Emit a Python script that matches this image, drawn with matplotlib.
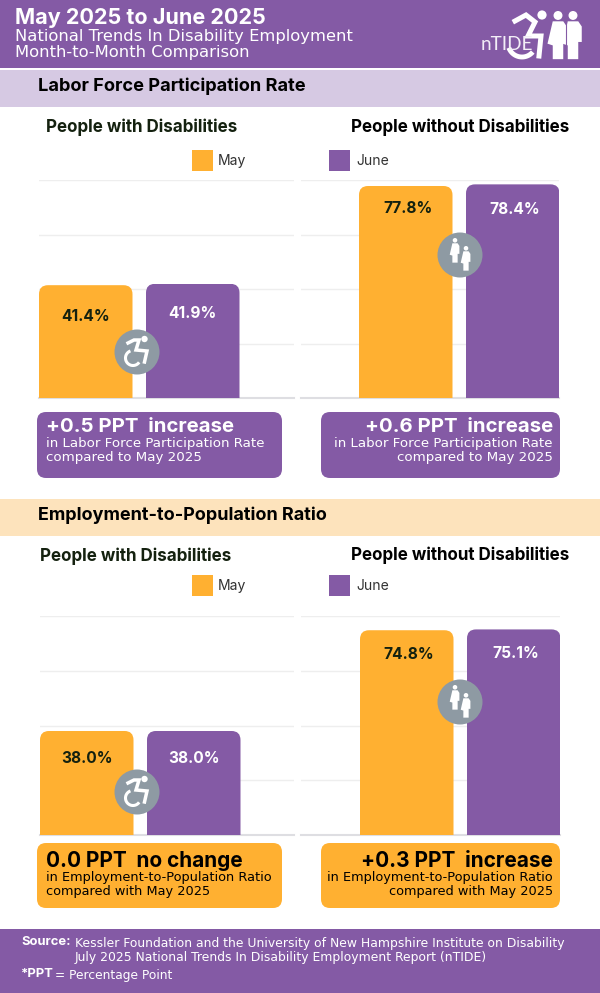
import numpy as np
import matplotlib
matplotlib.use("Agg")
from matplotlib import pyplot as plt
from matplotlib.patches import Rectangle, FancyBboxPatch, Circle, Polygon

W, H = 600, 993
PURPLE = "#845AA5"
ORANGE = "#FFB031"
LILAC = "#D6C9E3"
CREAM = "#FDE3BC"
GRAY = "#8E9AA3"
DARK = "#14210F"
WIDE = "DejaVu Sans"

plt.rcParams["font.family"] = ["Inter", "DejaVu Sans"]

months = ["May", "June"]
lfpr_with = [41.4, 41.9]
lfpr_without = [77.8, 78.4]
epop_with = [38.0, 38.0]
epop_without = [74.8, 75.1]
y_ticks = [0, 20, 40, 60, 80]

callout_heads = ["+0.5 PPT  increase", "+0.6 PPT  increase", "0.0 PPT  no change", "+0.3 PPT  increase"]
lfpr_sub = ["in Labor Force Participation Rate", "compared to May 2025"]
epop_sub = ["in Employment-to-Population Ratio", "compared with May 2025"]


def pt(px):
    return px * 0.72


fig = plt.figure(figsize=(W / 100, H / 100), dpi=100, facecolor="white")


def pixel_axes(z):
    ax = fig.add_axes([0, 0, 1, 1], zorder=z)
    ax.set_xlim(0, W)
    ax.set_ylim(H, 0)
    ax.axis("off")
    ax.patch.set_alpha(0)
    return ax


bg = pixel_axes(0)
fg = pixel_axes(5)


def txt(x, y, s, px, weight="normal", color="black", ha="left", family=None):
    t = fg.text(x, y, s, fontsize=pt(px), fontweight=weight, color=color, ha=ha, va="center")
    if family:
        t.set_family(family)


def band(y0, y1, color):
    bg.add_patch(Rectangle((0, y0), W, y1 - y0, color=color, lw=0))


def round_box(x0, y0, x1, y1, color):
    bg.add_patch(FancyBboxPatch((x0, y0), x1 - x0, y1 - y0, boxstyle="round,pad=0,rounding_size=9",
                                fc=color, ec="none"))


def bar_panel(x0, x1, base_y, top_y, x_first, values, drops, dx=0, label_px=15.5):
    # x_first = left edge of the first bar, in pixels
    step, width = 107.0, 93.5
    left = (x0 - (x_first + width / 2)) / step
    right = (x1 - (x_first + width / 2)) / step
    ax = fig.add_axes([x0 / W, 1 - base_y / H, (x1 - x0) / W, (base_y - top_y) / H], zorder=2)
    ax.set_xlim(left, right)
    ax.set_ylim(y_ticks[0], y_ticks[-1])
    ax.patch.set_alpha(0)
    for s in ax.spines.values():
        s.set_visible(False)
    ax.set_xticks([])
    ax.set_yticks(y_ticks)
    ax.tick_params(left=False, labelleft=False)
    ax.grid(axis="y", color="#EEEEEE", lw=1)
    ax.set_axisbelow(True)
    ax.axhline(0, color="#DEDEE2", lw=1.5, clip_on=False)
    pos = np.arange(len(values))
    bars = ax.bar(pos, values, width=width / step, color=[ORANGE, PURPLE], zorder=2)
    unit_x = step
    unit_y = (base_y - top_y) / y_ticks[-1]
    for b, v, drop, col in zip(bars, values, drops, [DARK, "white"]):
        # round the top corners: clip the bar to a rounded box running below the axis
        clip = FancyBboxPatch((b.get_x(), -10), b.get_width(), v + 10,
                              boxstyle="round,pad=0,rounding_size=%f" % (9 / unit_x),
                              mutation_aspect=unit_x / unit_y, transform=ax.transData)
        b.set_clip_path(clip)
        ax.annotate(f"{v:.1f}%", (b.get_x() + b.get_width() / 2, v), xytext=(dx * 0.72, -drop * 0.72),
                    textcoords="offset points", ha="center", va="center",
                    fontsize=pt(label_px), fontweight="bold", color=col, zorder=3)
    return ax


def arc(ax, cx, cy, r, a0, a1, lw, color="white"):
    t = np.radians(np.linspace(a0, a1, 40))
    ax.plot(cx + r * np.cos(t), cy - r * np.sin(t), color=color, lw=lw, solid_capstyle="butt")


def wheelchair(ax, cx, cy, color="white"):
    ax.add_patch(Circle((cx + 7.5, cy - 13), 3.2, color=color, lw=0))
    arc(ax, cx - 4, cy + 6, 7.5, 110, 325, 2.2, color)
    xs = [-9, -3, 2, -1, 10, 7.5]
    ys = [-9, -12, -12, -2, -1, 10]
    ax.plot([cx + v for v in xs], [cy + v for v in ys], color=color, lw=2.5, solid_joinstyle="miter")


def person(ax, x, y, k=1.0, kx=None, color="white"):
    # y = top of the head
    kx = kx or k
    ax.add_patch(Circle((x, y + 2.6 * k), 2.6 * k, color=color, lw=0))
    ax.add_patch(Polygon([(x - 3 * kx, y + 6 * k), (x + 3 * kx, y + 6 * k), (x + 5 * kx, y + 9 * k),
                          (x + 5 * kx, y + 18 * k), (x + 3 * kx, y + 18 * k), (x + 3 * kx, y + 28 * k),
                          (x - 3 * kx, y + 28 * k), (x - 3 * kx, y + 20 * k), (x - 6 * kx, y + 19 * k)],
                         color=color, lw=0))


def disc(cx, cy):
    fg.add_patch(Circle((cx, cy), 22.5, color=GRAY, lw=0))


# header
band(0, 68, PURPLE)
txt(15, 18, "May 2025 to June 2025", 21.6, "bold", "white")
txt(15, 37, "National Trends In Disability Employment", 16.4, "normal", "white", family=WIDE)
txt(15, 52, "Month-to-Month Comparison", 16.4, "normal", "white", family=WIDE)

# logo
txt(481, 45, "nTIDE", 19, "normal", "#F3EEF7", family="Lato")
arc(fg, 522, 43, 14, 200, 320, 3.5)
fg.add_patch(Circle((542, 15), 4.6, color="white", lw=0))
fg.plot([515, 526, 535, 528, 541, 539], [21, 15, 22, 36, 36, 56], color="white", lw=3.6, solid_joinstyle="miter")
person(fg, 558, 11, 1.72, 1.75)
person(fg, 573, 11, 1.72, 1.75)
fg.plot([565.5, 565.5], [22, 60], color=PURPLE, lw=0.8)

# section bands
band(70, 107, LILAC)
txt(38, 86, "Labor Force Participation Rate", 18.2, "bold")
band(499, 536, CREAM)
txt(38, 515, "Employment-to-Population Ratio", 18.0, "bold")

# panel titles
txt(46, 127, "People with Disabilities", 17, "bold", DARK)
txt(351, 127, "People without Disabilities", 17, "bold")
txt(40, 556, "People with Disabilities", 17, "bold", DARK)
txt(351, 555, "People without Disabilities", 17, "bold")

# legends
for ly in (161, 586):
    bg.add_patch(Rectangle((192, ly - 11), 21, 21, color=ORANGE, lw=0))
    bg.add_patch(Rectangle((329, ly - 11), 21, 21, color=PURPLE, lw=0))
    txt(218, ly, months[0], 14, "normal", "#333333")
    txt(356, ly, months[1], 14, "normal", "#333333")

# bars
bar_panel(39, 294, 398, 180, 39, lfpr_with, [31, 30])
bar_panel(301, 559, 398, 180, 359, lfpr_without, [23, 25], dx=2)
bar_panel(40, 294, 835, 616, 40, epop_with, [28, 28])
bar_panel(301, 560, 835, 616, 360, epop_without, [24, 24], dx=2)

# icons
disc(137, 352)
wheelchair(fg, 137, 352)
disc(137, 792)
wheelchair(fg, 137, 792)
for cx, cy in ((460, 255), (460, 702)):
    disc(cx, cy)
    person(fg, cx - 5, cy - 17, 0.88)
    person(fg, cx + 6, cy - 9, 0.88)

# callouts
round_box(37, 412, 282, 478, PURPLE)
round_box(321, 412, 560, 478, PURPLE)
round_box(37, 843, 282, 908, ORANGE)
round_box(321, 843, 560, 908, ORANGE)
txt(46, 427, callout_heads[0], 20.4, "bold", "white")
txt(46, 443, lfpr_sub[0], 13.45, "normal", "white", family=WIDE)
txt(46, 457, lfpr_sub[1], 13.45, "normal", "white", family=WIDE)
txt(553, 427, callout_heads[1], 20.4, "bold", "white", "right")
txt(553, 443, lfpr_sub[0], 13.45, "normal", "white", "right", family=WIDE)
txt(553, 457, lfpr_sub[1], 13.45, "normal", "white", "right", family=WIDE)
txt(46, 861, callout_heads[2], 20.8, "bold", "black")
txt(46, 878, epop_sub[0], 12.95, "normal", "black", family=WIDE)
txt(46, 892, epop_sub[1], 12.95, "normal", "black", family=WIDE)
txt(553, 861, callout_heads[3], 20.8, "bold", "black", "right")
txt(553, 878, epop_sub[0], 12.95, "normal", "black", "right", family=WIDE)
txt(553, 892, epop_sub[1], 12.95, "normal", "black", "right", family=WIDE)

# footer
band(929, 993, PURPLE)
txt(21, 942, "Source:", 13, "bold", "white")
txt(75, 943, "Kessler Foundation and the University of New Hampshire Institute on Disability", 12.4, "normal", "white", family=WIDE)
txt(75, 958, "July 2025 National Trends In Disability Employment Report (nTIDE)", 12.4, "normal", "white", family=WIDE)
txt(21, 974, "*PPT", 13, "bold", "white")
txt(55, 975, "= Percentage Point", 12.2, "normal", "white", family=WIDE)

fig.savefig("out.png", dpi=100)
